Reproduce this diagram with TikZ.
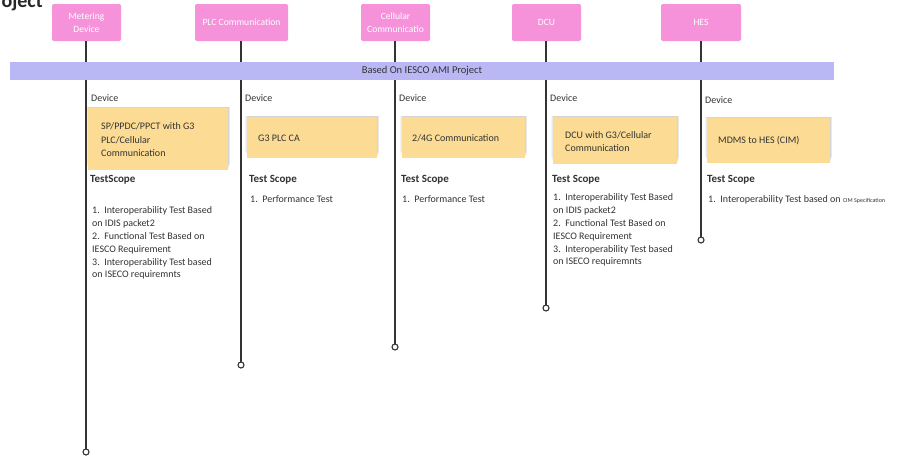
\documentclass[tikz,border=0pt]{standalone}
\usepackage{fontspec}
\setmainfont{Carlito}
\definecolor{pinkbox}{HTML}{F592DA}
\definecolor{bandc}{HTML}{BAB7F5}
\definecolor{yelbox}{HTML}{FCDC94}
\definecolor{ink}{HTML}{333333}
\pgfdeclarelayer{bglayer}
\pgfsetlayers{bglayer,main}
\tikzset{
  topbox/.style={fill=pinkbox, rounded corners=2pt, inner sep=0pt, text=white,
    font=\fontsize{9.6}{13}\selectfont, align=center},
  stem/.style={draw=ink, line width=1.3pt},
  endring/.style={circle, draw=ink, fill=white, line width=1.1pt, minimum size=6pt, inner sep=0pt},
  devbox/.style={fill=yelbox, inner sep=0pt},
  softshadow/.style={fill=black, opacity=0.045},
  devtxt/.style={anchor=west, inner sep=0pt, align=left, text=ink,
    font=\fontsize{10}{13.5}\selectfont},
  lbl/.style={anchor=west, inner sep=0pt, text=ink, font=\fontsize{10}{12}\selectfont},
  head/.style={anchor=west, inner sep=0pt, text=ink, font=\bfseries\fontsize{11}{13}\selectfont},
  items/.style={anchor=west, inner sep=0pt, align=left, text=ink,
    font=\fontsize{10}{12.9}\selectfont},
}
% soft shadow under a yellow box (y axis points down)
\newcommand{\yshadow}[1]{%
  \fill[softshadow] ([xshift=-2pt,yshift=1pt]#1.north west) rectangle ([xshift=2pt,yshift=6pt]#1.south east);
  \fill[softshadow] ([xshift=-1pt,yshift=1pt]#1.north west) rectangle ([xshift=1.5pt,yshift=4.5pt]#1.south east);
  \fill[softshadow] ([xshift=0pt,yshift=1pt]#1.north west) rectangle ([xshift=1pt,yshift=3pt]#1.south east);
  \fill[softshadow] ([xshift=0pt,yshift=1pt]#1.north west) rectangle ([xshift=0.5pt,yshift=2pt]#1.south east);
}
\begin{document}
\begin{tikzpicture}[x=1pt, y=-1pt]
\useasboundingbox (0,0) rectangle (920,456);
% title (clipped at the edges)
\node[anchor=base east, inner sep=0pt, text=black!85, font=\bfseries\fontsize{20}{22}\selectfont] (title) at (43,7) {Project};

% top boxes
\node[topbox, minimum width=69pt, minimum height=37pt] (b1) at (86.5,22.5) {Metering\\Device};
\node[topbox, minimum width=93pt, minimum height=37pt] (b2) at (241.5,22.5) {PLC Communication};
\node[topbox, minimum width=69pt, minimum height=37pt, text depth=0pt] (b3) at (395.5,22.5) {Cellular\\Communicatio};
\node[topbox, minimum width=69pt, minimum height=37pt] (b4) at (546.5,22.5) {DCU};
\node[topbox, minimum width=80pt, minimum height=37pt] (b5) at (701,22.5) {HES};

% end rings
\coordinate (e1) at (86,452);
\coordinate (e2) at (241,365);
\coordinate (e3) at (395,347);
\coordinate (e4) at (546,308);
\coordinate (e5) at (701,240);
\draw[stem] (b1.south -| e1) -- (e1);
\draw[stem] (b2.south -| e2) -- (e2);
\draw[stem] (b3.south -| e3) -- (e3);
\draw[stem] (b4.south -| e4) -- (e4);
\draw[stem] (b5.south -| e5) -- (e5);
\node[endring] (r1) at (e1) {};
\node[endring] (r2) at (e2) {};
\node[endring] (r3) at (e3) {};
\node[endring] (r4) at (e4) {};
\node[endring] (r5) at (e5) {};

% band
\node[fill=bandc, inner sep=0pt, minimum width=824pt, minimum height=18pt, text=ink,
  font=\fontsize{10.5}{12}\selectfont] (band) at (422,70.5) {Based On IESCO AMI Project};

% Column 1
\node[lbl] (d1) at (91,98.5) {Device};
\node[devbox, minimum width=140pt, minimum height=62pt] (y1) at (158,139) {};
\node[devtxt] (t1) at (101,140) {SP/PPDC/PPCT with G3\\PLC/Cellular\\Communication};
\node[head] (h1) at (90,180) {TestScope};
\node[items] (l1) at (92,243) {1.\ \ Interoperability Test Based\\on IDIS packet2\\2.\ \ Functional Test Based on\\IESCO Requirement\\3.\ \ Interoperability Test based\\on ISECO requiremnts};

% Column 2
\node[lbl] (d2) at (245,98.5) {Device};
\node[devbox, minimum width=130pt, minimum height=41pt] (y2) at (312,137.5) {};
\node[devtxt] (t2) at (258,138) {G3 PLC CA};
\node[head] (h2) at (249,180) {Test Scope};
\node[items] (l2) at (250,199) {1.\ \ Performance Test};

% Column 3
\node[lbl] (d3) at (399,98.5) {Device};
\node[devbox, minimum width=123pt, minimum height=41pt] (y3) at (463.5,137.5) {};
\node[devtxt] (t3) at (412,138) {2/4G Communication};
\node[head] (h3) at (401,180) {Test Scope};
\node[items] (l3) at (402,199) {1.\ \ Performance Test};

% Column 4
\node[lbl] (d4) at (550,98.5) {Device};
\node[devbox, minimum width=124pt, minimum height=47pt] (y4) at (615,140.5) {};
\node[devtxt] (t4) at (565,141.5) {DCU with G3/Cellular\\Communication};
\node[head] (h4) at (552,180) {Test Scope};
\node[items] (l4) at (553,230) {1.\ \ Interoperability Test Based\\on IDIS packet2\\2.\ \ Functional Test Based on\\IESCO Requirement\\3.\ \ Interoperability Test based\\on ISECO requiremnts};

% Column 5
\node[lbl] (d5) at (705,100) {Device};
\node[devbox, minimum width=123pt, minimum height=45pt] (y5) at (768.5,140.5) {};
\node[devtxt] (t5) at (718,141) {MDMS to HES (CIM)};
\node[head] (h5) at (707,180) {Test Scope};
\node[items] (l5) at (708,200) {1.\ \ Interoperability Test based on {\fontsize{6}{7}\selectfont CIM Specification}};

% background: white page and soft shadows of the yellow boxes
\begin{pgfonlayer}{bglayer}
  \fill[white] (0,0) rectangle (920,456);
  \yshadow{y1}
  \yshadow{y2}
  \yshadow{y3}
  \yshadow{y4}
  \yshadow{y5}
\end{pgfonlayer}
\end{tikzpicture}
\end{document}
